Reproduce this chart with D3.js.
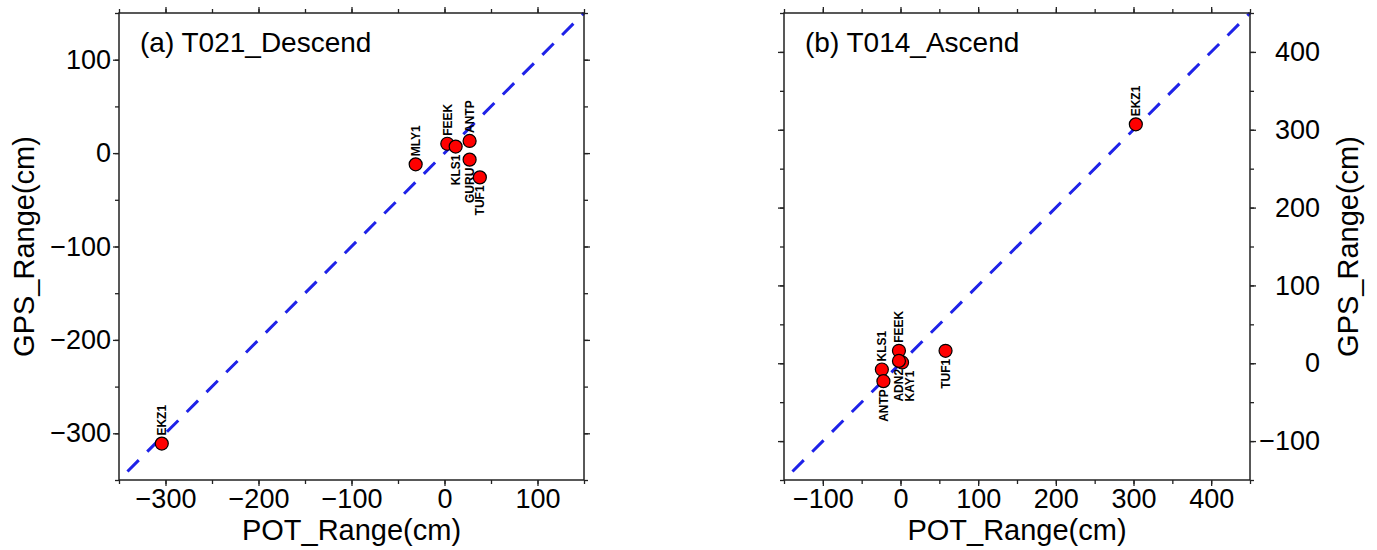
<!DOCTYPE html>
<html>
<head>
<meta charset="utf-8">
<script src="https://cdn.jsdelivr.net/npm/d3@7.9.0/dist/d3.min.js"></script>
<style>
  body { margin: 0; background: #fff; }
  svg { display: block; font-family: "Liberation Sans", Arial, Helvetica, sans-serif; }
</style>
</head>
<body>
<svg id="chart" width="1377" height="550"></svg>
<script>
// (a) T021_Descend
const stationsA = ['EKZ1', 'MLY1', 'FEEK', 'KLS1', 'ANTP', 'GURU', 'TUF1'];
const potA = [-304, -31, 3, 12, 27, 27, 38];
const gpsA = [-311, -12, 10, 7, 13, -7, -26];
const sideA = ['up', 'up', 'up', 'down', 'up', 'down', 'down'];
const rangeA = [-350, 150];
const ticksA = [-300, -200, -100, 0, 100];

// (b) T014_Ascend
const stationsB = ['EKZ1', 'TUF1', 'KLS1', 'ANTP', 'FEEK', 'KAY1', 'ADN2'];
const potB = [303, 58, -24, -22, -2, 2, -2];
const gpsB = [307, 16, -8, -23, 16, 1, 3];
const sideB = ['up', 'down', 'up', 'down', 'up', 'down', 'down'];
const rangeB = [-150, 450];
const ticksB = [-100, 0, 100, 200, 300, 400];

const svg = d3.select('#chart');
const fmt = d3.format('d'); // uses the real minus sign

const panels = [
  { title: '(a) T021_Descend', left: 119, top: 13, w: 465, h: 467,
    stations: stationsA, pot: potA, gps: gpsA, side: sideA,
    range: rangeA, ticks: ticksA, yLabelSide: 'left' },
  { title: '(b) T014_Ascend', left: 784, top: 13, w: 466, h: 467,
    stations: stationsB, pot: potB, gps: gpsB, side: sideB,
    range: rangeB, ticks: ticksB, yLabelSide: 'right' }
];

function styleAxis(sel) {
  sel.select('.domain').remove();
  sel.selectAll('line').attr('stroke', '#222').attr('stroke-width', 1.3);
  sel.selectAll('text').attr('fill', '#000').attr('font-size', 27);
}

function drawPanel(p) {
  const g = svg.append('g').attr('transform', `translate(${p.left},${p.top})`);
  const x = d3.scaleLinear().domain(p.range).range([0, p.w]);
  const y = d3.scaleLinear().domain(p.range).range([p.h, 0]);
  const minor = d3.range(p.range[0], p.range[1] + 1, 50);

  // minor ticks on all four sides
  const minorAxes = [
    [d3.axisBottom(x), `translate(0,${p.h})`],
    [d3.axisTop(x), 'translate(0,0)'],
    [d3.axisLeft(y), 'translate(0,0)'],
    [d3.axisRight(y), `translate(${p.w},0)`]
  ];
  minorAxes.forEach(([ax, tr]) => {
    g.append('g').attr('transform', tr)
      .call(ax.tickValues(minor).tickSize(4).tickFormat(''))
      .call(styleAxis);
  });

  // major ticks
  g.append('g').attr('transform', `translate(0,${p.h})`)
    .call(d3.axisBottom(x).tickValues(p.ticks).tickSize(6).tickPadding(3).tickFormat(fmt))
    .call(styleAxis);
  g.append('g')
    .call(d3.axisTop(x).tickValues(p.ticks).tickSize(6).tickFormat(''))
    .call(styleAxis);

  const left = d3.axisLeft(y).tickValues(p.ticks).tickSize(6).tickPadding(2);
  const right = d3.axisRight(y).tickValues(p.ticks).tickSize(6);
  if (p.yLabelSide === 'left') {
    left.tickFormat(fmt);
    right.tickFormat('');
  } else {
    left.tickFormat('');
    right.tickFormat(fmt);
  }
  g.append('g').call(left).call(styleAxis);
  const rg = g.append('g').attr('transform', `translate(${p.w},0)`).call(right).call(styleAxis);
  if (p.yLabelSide === 'right') {
    rg.selectAll('text').attr('text-anchor', 'end').attr('x', 70);
  }

  // 1:1 dashed line
  g.append('line')
    .attr('x1', x(p.range[0])).attr('y1', y(p.range[0]))
    .attr('x2', x(p.range[1])).attr('y2', y(p.range[1]))
    .attr('stroke', '#1e22e8')
    .attr('stroke-width', 3)
    .attr('stroke-dasharray', '16,12')
    .attr('stroke-dashoffset', 16);

  // frame
  g.append('rect')
    .attr('width', p.w).attr('height', p.h)
    .attr('fill', 'none').attr('stroke', '#222').attr('stroke-width', 1.5);

  // points
  const pts = p.stations.map((name, i) => ({
    name, px: x(p.pot[i]), py: y(p.gps[i]), side: p.side[i]
  }));

  // station labels: nudge a label right when it would sit on a neighbour
  const placed = [];
  [...pts].sort((a, b) => a.px - b.px).forEach(d => {
    d.lx = d.px;
    placed.forEach(o => {
      if (o.side === d.side && Math.abs(o.lx - d.lx) < 9 && Math.abs(o.py - d.py) < 25) {
        d.lx = o.lx + 11;
      }
    });
    placed.push(d);
  });

  g.selectAll('.lbl')
    .data(pts)
    .join('text')
    .attr('class', 'lbl')
    .attr('transform', d => `translate(${d.lx},${d.side === 'up' ? d.py - 8 : d.py + 8}) rotate(-90)`)
    .attr('text-anchor', d => d.side === 'up' ? 'start' : 'end')
    .attr('dy', '0.36em')
    .attr('font-size', 12)
    .attr('font-weight', 'bold')
    .text(d => d.name);

  g.selectAll('circle')
    .data(pts)
    .join('circle')
    .attr('cx', d => d.px)
    .attr('cy', d => d.py)
    .attr('r', 6.5)
    .attr('fill', '#ff0000')
    .attr('stroke', '#000')
    .attr('stroke-width', 1.2);

  // texts
  g.append('text')
    .attr('x', 21).attr('y', 39)
    .attr('font-size', 28)
    .text(p.title);

  g.append('text')
    .attr('x', p.w / 2).attr('y', 527)
    .attr('text-anchor', 'middle')
    .attr('font-size', 29)
    .text('POT_Range(cm)');

  const yx = p.yLabelSide === 'left' ? 34 - p.left : 1358 - p.left;
  g.append('text')
    .attr('transform', `translate(${yx},${p.h / 2}) rotate(-90)`)
    .attr('text-anchor', 'middle')
    .attr('font-size', 29)
    .text('GPS_Range(cm)');
}

panels.forEach(drawPanel);
</script>
</body>
</html>
